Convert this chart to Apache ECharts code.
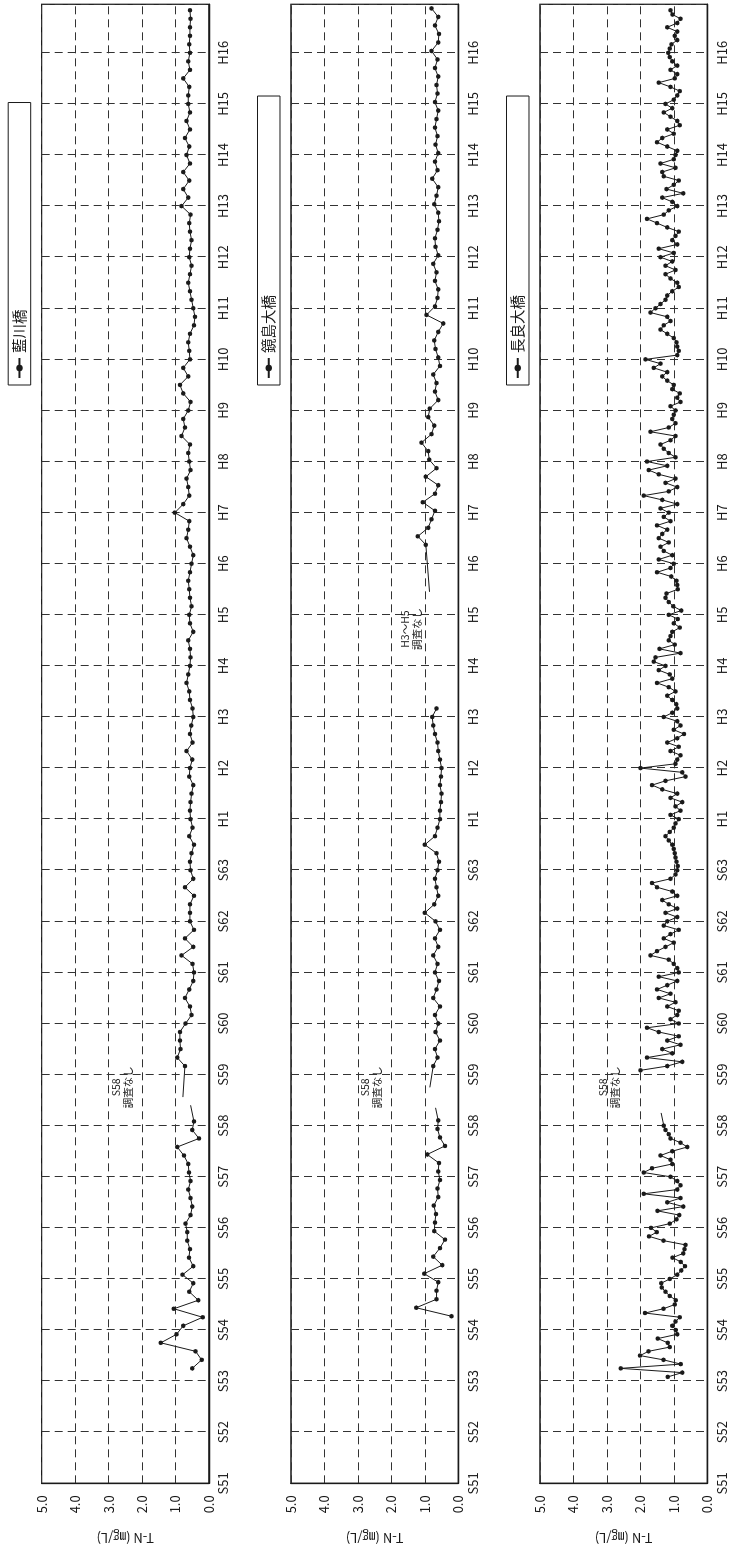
<!DOCTYPE html>
<html><head><meta charset="utf-8">
<script src="https://cdn.jsdelivr.net/npm/echarts@6/dist/echarts.min.js"></script>
<style>
html,body{margin:0;padding:0;background:#fff;overflow:hidden;}
#wrap{position:absolute;left:0;top:0;width:732px;height:1555px;overflow:hidden;background:#fff;}
#chart{position:absolute;left:0;top:0;width:1555px;height:732px;transform-origin:0 0;transform:translateY(1555px) rotate(-90deg);}
</style></head><body><div id="wrap"><div id="chart"></div></div>
<script>
// ---- tick labels (fiscal years, Showa / Heisei) ----
const TICK_YEARS = [1976,1977,1978,1979,1980,1981,1982,1983,1984,1985,1986,1987,1988,1989,1990,1991,1992,1993,1994,1995,1996,1997,1998,1999,2000,2001,2002,2003,2004];
const TICK_LABELS = ['S51','S52','S53','S54','S55','S56','S57','S58','S59','S60','S61','S62','S63','H1','H2','H3','H4','H5','H6','H7','H8','H9','H10','H11','H12','H13','H14','H15','H16'];
const VALUE_TICKS = [0,1,2,3,4,5];

const SERIES_NAMES = ['藍川橋','鏡島大橋','長良大橋'];

// ---- 藍川橋 (bi-monthly) ----
const aikawaA_start = 1978.25;
const aikawaA = [0.50,0.22,0.40,1.44,0.97,0.77,0.19,1.05,0.32,0.59,0.47,0.79,0.47,0.60,0.57,0.65,0.65,0.70,0.55,0.50,
  0.55,0.62,0.55,0.60,0.62,0.75,0.95,0.30,0.50,0.45];
const aikawaStubs = [[1983.40,0.55],[1983.56,0.78]];
const aikawaB_start = 1984 + 1/6;
const aikawaB = [
  0.72,0.95,0.85,0.87,0.87,0.70,
  0.52,0.57,0.72,0.59,0.47,0.45,
  0.49,0.82,0.47,0.72,0.45,0.57,
  0.57,0.57,0.45,0.72,0.47,0.55,
  0.57,0.52,0.45,0.59,0.49,0.55,
  0.57,0.55,0.52,0.47,0.59,0.57,
  0.50,0.67,0.49,0.57,0.53,0.47,
  0.49,0.57,0.59,0.67,0.62,0.57,
  0.55,0.57,0.62,0.47,0.57,0.59,
  0.52,0.57,0.59,0.62,0.57,0.52,
  0.47,0.57,0.67,0.62,0.59,1.02,
  0.77,0.59,0.62,0.67,0.55,0.59,
  0.62,0.57,0.82,0.72,0.77,0.62,
  0.55,0.77,0.87,0.62,0.77,0.57,
  0.59,0.62,0.57,0.45,0.42,0.47,
  0.52,0.57,0.62,0.57,0.52,0.59,
  0.57,0.52,0.57,0.59,0.55,0.82,
  0.62,0.77,0.59,0.77,0.57,0.67,
  0.59,0.72,0.57,0.67,0.57,0.62,
  0.62,0.59,0.77,0.57,0.62,0.57,
  0.59,0.57,0.57,0.55,0.57];

// ---- 鏡島大橋 (bi-monthly) ----
const kagamiA_start = 1979.27;
const kagamiA = [0.20,1.26,0.65,0.65,0.60,1.02,0.48,0.75,0.55,0.40,0.72,0.70,0.67,0.73,0.60,0.62,0.55,0.60,0.58,0.93,0.40,0.55,0.62,0.60];
const kagamiStubs = [[1983.35,0.68],[1983.75,0.85],[1993.45,0.86]];
const kagamiB_start = 1984 + 1/6;
const kagamiB = [
  0.75,0.62,0.70,0.55,0.68,0.60,
  0.70,0.55,0.75,0.65,0.58,0.70,
  0.62,0.75,0.60,0.70,0.55,0.68,
  1.00,0.72,0.60,0.65,0.70,0.62,
  0.58,0.65,1.00,0.70,0.62,0.55,
  0.55,0.52,0.50,0.55,0.52,0.50,
  0.55,0.60,0.62,0.70,0.75,0.78,
  0.65];
const kagamiC_start = 1994.37;
const kagamiC = [
  0.97,1.21,0.90,0.80,0.70,1.06,0.70,0.60,0.97,0.65,0.87,0.90,1.10,0.80,0.72,0.90,0.85,0.60,
  0.70,0.65,0.75,0.55,0.60,0.68,
  0.72,0.60,0.45,0.95,0.70,0.62,
  0.60,0.70,0.65,0.75,0.60,0.68,
  0.70,0.62,0.58,0.60,0.72,0.65,
  0.60,0.78,0.62,0.70,0.60,0.68,
  0.62,0.70,0.65,0.60,0.70,0.62,
  0.65,0.60,0.70,0.62,0.80,0.60,
  0.58,0.70,0.60,0.80];

// ---- 長良大橋 (monthly) ----
const nagaraA_start = 1978 + 1/12;
const nagaraA = [1.18,0.75,2.59,0.79,1.31,2.01,1.76,1.12,1.18,1.48,0.90,0.94,1.05,0.95,0.82,1.86,1.31,0.97,0.94,1.12,
  1.25,1.36,1.38,1.12,0.90,0.78,0.67,0.79,1.04,0.72,0.68,0.65,1.31,1.74,1.51,1.68,1.12,0.92,0.84,1.49,0.72,
  1.20,0.80,1.90,0.90,0.80,0.90,1.10,1.90,1.65,1.05,1.10,1.40,1.05,0.60,0.80,1.10,1.15,1.25,1.30];
const nagaraStubs = [[1983.25,1.38]];
const nagaraB_start = 1984 + 1/12;
const nagaraB = [
  2.00,1.20,0.75,1.80,1.05,1.35,0.80,1.20,0.85,1.45,1.80,
  0.85,1.10,0.90,0.85,1.20,0.95,1.45,1.10,1.50,1.20,0.90,1.45,
  0.85,0.90,1.00,1.15,1.70,1.50,1.25,1.00,1.30,1.10,0.85,1.30,
  1.20,0.90,1.25,0.90,1.15,1.35,0.90,1.05,1.50,1.65,1.10,0.95,
  0.90,0.88,0.92,0.95,0.97,1.00,1.05,1.15,1.25,1.12,1.00,0.95,
  0.85,1.10,0.80,0.95,0.75,1.10,0.90,1.35,1.65,1.25,0.65,0.75,
  2.00,0.95,0.90,0.80,1.10,0.85,1.20,0.90,0.70,1.00,0.80,0.90,
  1.30,1.05,0.90,0.93,1.05,1.20,0.95,1.15,1.50,1.05,1.12,1.45,
  1.25,1.60,1.55,0.80,1.43,0.97,1.15,1.10,1.05,0.82,1.00,0.88,
  1.15,0.78,1.02,1.15,1.25,1.22,0.88,0.90,0.92,1.08,1.50,1.10,
  1.00,1.45,1.05,1.30,1.40,1.15,1.45,1.35,1.20,1.50,1.10,1.30,
  1.15,1.40,0.90,1.35,1.90,1.15,0.90,1.25,0.95,1.45,1.75,1.20,
  1.80,0.95,1.15,1.30,1.40,1.10,0.95,1.70,1.15,0.95,1.05,1.00,
  0.95,1.10,0.80,0.90,0.82,1.05,1.00,1.20,1.35,1.20,1.60,1.40,
  1.85,0.90,0.85,0.90,0.92,1.00,1.20,1.40,1.30,1.10,1.20,1.70,
  1.55,1.40,1.25,1.20,1.05,0.85,0.90,1.10,1.25,0.95,1.25,1.05,
  1.40,1.00,1.45,0.90,1.05,0.95,0.85,1.20,1.50,1.80,1.30,1.15,
  0.90,1.05,1.35,0.72,1.22,1.00,0.85,1.30,1.35,0.95,1.40,1.00,
  0.95,0.90,1.20,1.50,1.35,1.00,1.20,0.82,0.90,1.10,1.30,1.05,
  1.25,1.00,0.90,0.82,1.10,1.45,0.97,0.90,1.10,0.90,1.05,1.12,
  1.17,1.12,1.07,0.90,0.97,0.90,1.20,0.90,0.80,1.04,1.10];

// ---- annotations (text) ----
const NOTE_S58 = 'S58\n調査なし';
const NOTE_H3H5 = 'H3～H5\n調査なし';

// ---------------- build ----------------
const FONT = '"Noto Sans CJK JP", "Noto Sans", sans-serif';
const INK = '#1a1a1a';
function seg(start, step, vals){ return vals.map((v,i)=>[start + i*step, v]); }
function stub(p){ return {value:[p[0],p[1]], symbol:'none'}; }
function gap(x){ return [x,'-']; }

const d1 = [].concat(seg(aikawaA_start,1/6,aikawaA), [stub(aikawaStubs[0]), gap(1983.48), stub(aikawaStubs[1])], seg(aikawaB_start,1/6,aikawaB));
const d2 = [].concat(seg(kagamiA_start,1/6,kagamiA), [stub(kagamiStubs[0]), gap(1983.5), stub(kagamiStubs[1])], seg(kagamiB_start,1/6,kagamiB),
  [gap(1992.5), stub(kagamiStubs[2])], seg(kagamiC_start,1/6,kagamiC));
const d3 = [].concat(seg(nagaraA_start,1/12,nagaraA), [stub(nagaraStubs[0]), gap(1983.6)], seg(nagaraB_start,1/12,nagaraB));
const DATA = [d1,d2,d3];

const GRID_TOP = [41.7, 291, 540];
const GRID_H = 167.3;
const X_MIN = 1976, X_MAX = 2004.95;
const LEGEND_PAD_RIGHT = [207, 199, 199];

function tickLabel(v){
  const r = Math.round(v);
  if (Math.abs(v - r) > 1e-6) return '';
  const i = TICK_YEARS.indexOf(r);
  return i >= 0 ? TICK_LABELS[i] : '';
}

const grids = [], xAxes = [], yAxes = [], series = [], legends = [];
for (let p = 0; p < 3; p++){
  grids.push({left:71.7, width:1479, top:GRID_TOP[p], height:GRID_H, show:true, borderColor:INK, borderWidth:1.3, backgroundColor:'transparent', containLabel:false, outerBoundsMode:'none'});
  xAxes.push({type:'value', gridIndex:p, min:X_MIN, max:X_MAX, interval:1,
    axisLine:{show:true, onZero:false, lineStyle:{color:INK, width:1.3}}, axisTick:{show:false},
    axisLabel:{formatter:tickLabel, color:INK, fontFamily:FONT, fontSize:13, margin:8, showMaxLabel:false},
    splitLine:{show:true, lineStyle:{color:'#333', type:[8,5], width:1}}});
  yAxes.push({type:'value', gridIndex:p, min:VALUE_TICKS[0], max:VALUE_TICKS[VALUE_TICKS.length-1], interval:1,
    name:'T-N (㎎/L)', nameLocation:'middle', nameRotate:90, nameGap:48,
    nameTextStyle:{color:INK, fontFamily:FONT, fontSize:13},
    axisLine:{show:true, lineStyle:{color:INK, width:1.3}}, axisTick:{show:false},
    axisLabel:{formatter:v=>v.toFixed(1), color:INK, fontFamily:FONT, fontSize:13, margin:12},
    splitLine:{show:true, lineStyle:{color:'#333', type:[8,5], width:1}}});
  const notes = [{coord:[1983.75, p===0?2.6:(p===1?2.6:2.95)], value:NOTE_S58}];
  if (p === 1) notes.push({coord:[1992.72, 1.41], value:NOTE_H3H5});
  series.push({name:SERIES_NAMES[p], type:'line', xAxisIndex:p, yAxisIndex:p, data:DATA[p],
    symbol:'circle', symbolSize:4.5, showSymbol:true, connectNulls:false, animation:false,
    lineStyle:{color:INK, width:1}, itemStyle:{color:INK},
    markPoint:{symbol:'circle', symbolSize:0, animation:false, silent:true,
      label:{show:true, position:'inside', formatter:q=>q.value, color:INK, fontFamily:FONT, fontSize:10.5, lineHeight:12, align:'center'},
      data:notes}});
  legends.push({data:[SERIES_NAMES[p]], left:1170, top:GRID_TOP[p]-33.5, orient:'horizontal',
    backgroundColor:'#fff', borderColor:INK, borderWidth:1, borderRadius:0, padding:[4,LEGEND_PAD_RIGHT[p],4,6],
    itemWidth:20, itemHeight:8, itemGap:0, selectedMode:false,
    textStyle:{color:INK, fontFamily:FONT, fontSize:14.5}});
}

const chart = echarts.init(document.getElementById('chart'), null, {renderer:'canvas', width:1555, height:732});
chart.setOption({backgroundColor:'#fff', animation:false, grid:grids, xAxis:xAxes, yAxis:yAxes, series:series, legend:legends});
</script></body></html>
